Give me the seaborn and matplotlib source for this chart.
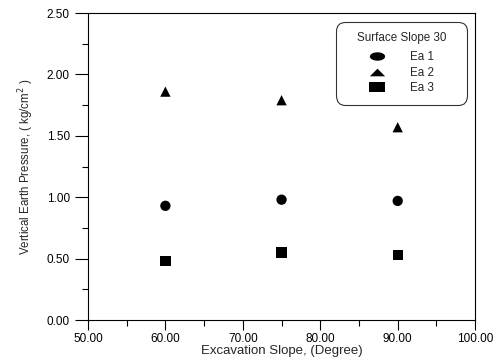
import numpy as np
import pandas as pd
import matplotlib
matplotlib.use("Agg")
import matplotlib.pyplot as plt
from matplotlib.lines import Line2D
from matplotlib.path import Path
from matplotlib.ticker import MultipleLocator, FormatStrFormatter
import seaborn as sns

slopes = [60, 75, 90]
ea1 = [0.93, 0.98, 0.97]
ea2 = [1.86, 1.79, 1.57]
ea3 = [0.48, 0.55, 0.53]
series_names = ["Ea 1", "Ea 2", "Ea 3"]

df = pd.DataFrame({
    "slope": slopes * 3,
    "pressure": ea1 + ea2 + ea3,
    "series": [n for n in series_names for _ in slopes],
})

sns.set_style("ticks")
plt.rcParams["font.family"] = ["Liberation Sans", "DejaVu Sans"]

fig = plt.figure(figsize=(4.97, 3.62), dpi=100)
ax = fig.add_axes([0.177, 0.116, 0.779, 0.848])

sns.scatterplot(data=df, x="slope", y="pressure", style="series",
                markers={"Ea 1": "o", "Ea 2": "^", "Ea 3": "s"},
                color="black", s=55, edgecolor="black", linewidth=0,
                ax=ax, legend=False)

ax.set_xlim(50, 100)
ax.set_ylim(0, 2.5)
ax.xaxis.set_major_locator(MultipleLocator(10))
ax.xaxis.set_minor_locator(MultipleLocator(5))
ax.yaxis.set_major_locator(MultipleLocator(0.5))
ax.yaxis.set_minor_locator(MultipleLocator(0.25))
ax.xaxis.set_major_formatter(FormatStrFormatter("%.2f"))
ax.yaxis.set_major_formatter(FormatStrFormatter("%.2f"))
ax.tick_params(which="both", direction="out", width=0.8, labelsize=8.5, colors="black")
ax.tick_params(axis="x", which="major", length=7.5, pad=2)
ax.tick_params(axis="x", which="minor", length=4)
ax.tick_params(axis="y", which="major", length=9.5, pad=3.5)
ax.tick_params(axis="y", which="minor", length=4.5)
for sp in ax.spines.values():
    sp.set_linewidth(0.8)
    sp.set_color("black")

ax.set_xlabel("Excavation Slope, (Degree)", fontsize=9.5, labelpad=0)
ax.set_ylabel("Vertical Earth Pressure, ( kg/cm$^2$ )", fontsize=8.3, labelpad=8)

# the legend symbols in the original are drawn wider than tall
t = np.linspace(0, 2 * np.pi, 40)
oval = Path(np.column_stack([np.cos(t), 0.55 * np.sin(t)]), closed=True)
flat_tri = Path([(-1, -0.5), (1, -0.5), (0, 0.5), (-1, -0.5)], closed=True)
flat_sq = Path([(-1, -0.65), (1, -0.65), (1, 0.65), (-1, 0.65), (-1, -0.65)], closed=True)
handles = [Line2D([], [], linestyle="none", marker=m, markersize=11,
                  markerfacecolor="black", markeredgewidth=0)
           for m in (oval, flat_tri, flat_sq)]

# legend box: top-left corner at (337, 23) px, width 129 px
leg_top = 1 - 23 / 362
leg = ax.legend(handles, series_names, title="Surface Slope 30", loc="upper left",
                bbox_to_anchor=(337 / 497, leg_top - 0.3, 129 / 497, 0.3),
                bbox_transform=fig.transFigure, mode="expand",
                fontsize=8.4, title_fontsize=8.4,
                frameon=True, fancybox=True, edgecolor="black",
                handlelength=5.3, handletextpad=0.2, borderpad=0.8,
                labelspacing=0.3, borderaxespad=0)
leg.get_frame().set_linewidth(0.8)
leg.get_frame().set_boxstyle("round,pad=0.1,rounding_size=0.8")
leg._legend_box.sep = 5

fig.savefig("out.png", dpi=100)
